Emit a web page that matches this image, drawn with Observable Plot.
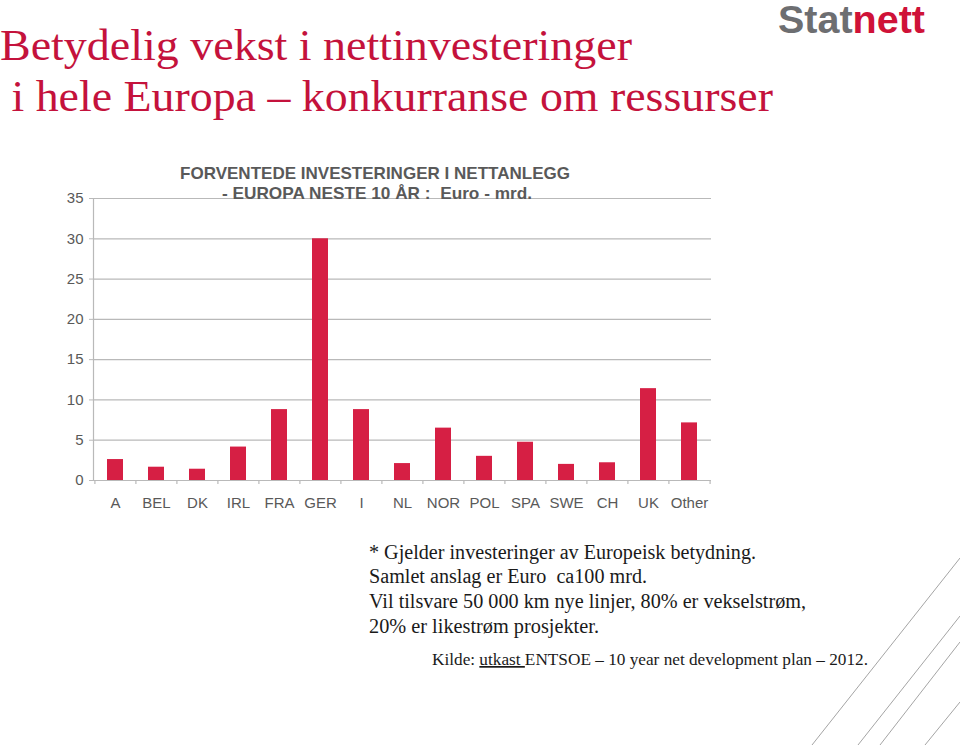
<!DOCTYPE html>
<html>
<head>
<meta charset="utf-8">
<script src="https://cdn.jsdelivr.net/npm/d3@7"></script>
<script src="https://cdn.jsdelivr.net/npm/@observablehq/plot@0.6"></script>
<style>
  html, body { margin: 0; padding: 0; background: #fff; }
  #page { position: relative; width: 960px; height: 745px; overflow: hidden; background: #fff; }
  #chart { position: absolute; left: 0; top: 150px; }
  #overlay { position: absolute; left: 0; top: 0; pointer-events: none; }
</style>
</head>
<body>
<div id="page">
  <div id="chart"></div>
  <svg id="overlay" width="960" height="745"></svg>
</div>
<script>
// ---- data ----
const categories = ["A", "BEL", "DK", "IRL", "FRA", "GER", "I", "NL", "NOR", "POL", "SPA", "SWE", "CH", "UK", "Other"];
const values = [2.6, 1.65, 1.4, 4.15, 8.8, 30, 8.8, 2.1, 6.5, 3.0, 4.75, 2.0, 2.2, 11.4, 7.15];
const yTicks = [0, 5, 10, 15, 20, 25, 30, 35];

const mainTitle = ["Betydelig vekst i nettinvesteringer", " i hele Europa \u2013 konkurranse om ressurser"];
const chartTitle = ["FORVENTEDE INVESTERINGER I NETTANLEGG", "- EUROPA NESTE 10 \u00C5R :  Euro - mrd."];
const notes = [
  "* Gjelder investeringer av Europeisk betydning.",
  "Samlet anslag er Euro  ca100 mrd.",
  "Vil tilsvare 50 000 km nye linjer, 80% er vekselstr\u00F8m,",
  "20% er likestr\u00F8m prosjekter."
];
const source = ["Kilde: ", "utkast ", "ENTSOE \u2013 10 year net development plan \u2013 2012."];

const data = categories.map((c, i) => ({category: c, value: values[i]}));

// ---- chart ----
const W = 960, H = 380, ML = 93, MR = 249, MT = 48, MB = 50;
const step = (W - ML - MR) / categories.length;
const grey = "#595959", gridGrey = "#b9b9b9", red = "#d61f44";

const chart = Plot.plot({
  width: W, height: H,
  marginLeft: ML, marginRight: MR, marginTop: MT, marginBottom: MB,
  style: {fontFamily: "'Liberation Sans', Arial, sans-serif", fontSize: "15px", background: "transparent", color: grey},
  x: {domain: categories, paddingInner: 0.6, paddingOuter: 0.3, label: null},
  y: {domain: [0, 35], label: null},
  marks: [
    Plot.ruleY(yTicks, {stroke: gridGrey, strokeWidth: 1.2}),
    Plot.frame({anchor: "left", stroke: gridGrey, strokeWidth: 1.2}),
    Plot.ruleX(categories, {x: d => d, y1: 0, y2: -0.5, dx: -step / 2, stroke: gridGrey, strokeWidth: 1.2}),
    Plot.ruleX(categories.slice(-1), {x: d => d, y1: 0, y2: -0.5, dx: step / 2, stroke: gridGrey, strokeWidth: 1.2}),
    Plot.barY(data, {x: "category", y: "value", fill: red}),
    Plot.axisY({ticks: yTicks, tickSize: 4, tickPadding: 6, stroke: gridGrey, fill: grey, label: null, fontSize: 15}),
    Plot.axisX({tickSize: 0, tickPadding: 17, fill: grey, label: null, fontSize: 15})
  ]
});
document.getElementById("chart").appendChild(chart);

// ---- titles, notes, decoration ----
const ov = d3.select("#overlay");
const titleRed = "#c4123c";

// diagonal decoration lines
const deco = [[812, 745, 960, 558], [858, 745, 960, 616], [880, 745, 960, 642], [925, 745, 960, 702]];
deco.forEach(([x1, y1, x2, y2]) => ov.append("line").attr("x1", x1).attr("y1", y1).attr("x2", x2).attr("y2", y2)
  .attr("stroke", "#9a9a9a").attr("stroke-width", 0.9));

// main title
const mt = [{x: 0, y: 60, len: 632}, {x: 0, y: 111, len: 773}];
mainTitle.forEach((t, i) => ov.append("text").attr("x", mt[i].x).attr("y", mt[i].y)
  .attr("textLength", mt[i].len).attr("lengthAdjust", "spacingAndGlyphs")
  .attr("font-family", "'Liberation Serif', 'Times New Roman', serif").attr("font-size", 44)
  .attr("fill", titleRed).style("white-space", "pre").text(t));

// logo
const logo = ov.append("text").attr("x", 778).attr("y", 33).attr("textLength", 147).attr("lengthAdjust", "spacingAndGlyphs")
  .attr("font-family", "'Liberation Sans', Arial, sans-serif").attr("font-size", 38).attr("font-weight", "bold");
logo.append("tspan").attr("fill", "#6d6e71").text("Stat");
logo.append("tspan").attr("fill", "#cf1238").text("nett");

// chart title
const ct = [{x: 180, y: 179, len: 390}, {x: 222, y: 199, len: 310}];
chartTitle.forEach((t, i) => ov.append("text").attr("x", ct[i].x).attr("y", ct[i].y)
  .attr("textLength", ct[i].len).attr("lengthAdjust", "spacingAndGlyphs")
  .attr("font-family", "'Liberation Sans', Arial, sans-serif").attr("font-size", 17).attr("font-weight", "bold")
  .attr("fill", grey).style("white-space", "pre").text(t));

// notes
const nt = [{y: 559, len: 387}, {y: 583, len: 278}, {y: 608, len: 437}, {y: 633, len: 230}];
notes.forEach((t, i) => ov.append("text").attr("x", 369).attr("y", nt[i].y)
  .attr("textLength", nt[i].len).attr("lengthAdjust", "spacingAndGlyphs")
  .attr("font-family", "'Liberation Serif', 'Times New Roman', serif").attr("font-size", 20)
  .attr("fill", "#1a1a1a").style("white-space", "pre").text(t));

// source
const src = ov.append("text").attr("x", 432).attr("y", 665).attr("textLength", 436).attr("lengthAdjust", "spacingAndGlyphs")
  .attr("font-family", "'Liberation Serif', 'Times New Roman', serif").attr("font-size", 17)
  .attr("fill", "#1a1a1a").style("white-space", "pre");
source.forEach((t, i) => {
  const ts = src.append("tspan").text(t);
  if (i === 1) ts.attr("text-decoration", "underline");
});
</script>
</body>
</html>
